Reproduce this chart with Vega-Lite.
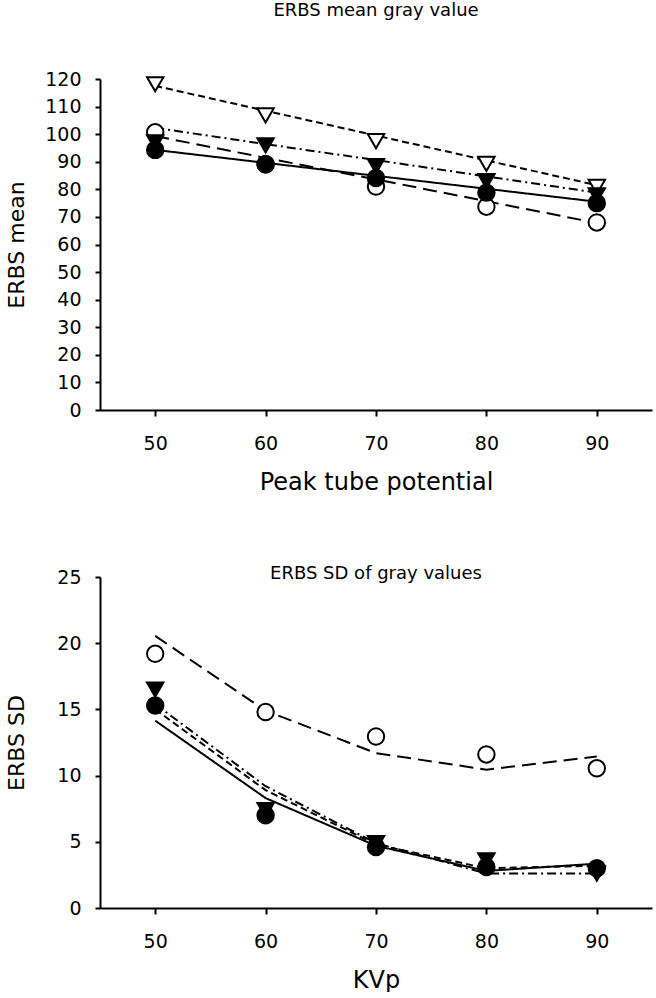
{
  "$schema": "https://vega.github.io/schema/vega-lite/v6.json",
  "padding": {"left": 5, "top": 2, "right": 4, "bottom": 0},
  "autosize": {"type": "pad"},
  "background": "white",
  "config": {
    "view": {"stroke": null},
    "font": "DejaVu Sans",
    "axis": {
      "domainColor": "black", "tickColor": "black", "labelColor": "black", "titleColor": "black",
      "grid": false, "domainWidth": 2, "tickWidth": 2, "tickSize": 6, "labelOverlap": false,
      "labelFontSize": 19, "titleFontSize": 22, "titleFontWeight": "normal",
      "labelFont": "DejaVu Sans", "titleFont": "DejaVu Sans"
    },
    "axisX": {"titleFontSize": 24, "labelPadding": 18},
    "title": {"fontSize": 18, "fontWeight": "normal", "color": "black", "font": "DejaVu Sans", "anchor": "middle"}
  },
  "datasets": {
    "meanFit": [
      {"kvp": 50, "series": "A", "value": 94.3}, {"kvp": 60, "series": "A", "value": 89.6}, {"kvp": 70, "series": "A", "value": 84.9}, {"kvp": 80, "series": "A", "value": 80.2}, {"kvp": 90, "series": "A", "value": 75.5},
      {"kvp": 50, "series": "B", "value": 99.3}, {"kvp": 60, "series": "B", "value": 91.4}, {"kvp": 70, "series": "B", "value": 83.6}, {"kvp": 80, "series": "B", "value": 75.7}, {"kvp": 90, "series": "B", "value": 67.8},
      {"kvp": 50, "series": "C", "value": 102.3}, {"kvp": 60, "series": "C", "value": 96.4}, {"kvp": 70, "series": "C", "value": 90.6}, {"kvp": 80, "series": "C", "value": 84.7}, {"kvp": 90, "series": "C", "value": 78.8},
      {"kvp": 50, "series": "D", "value": 117.5}, {"kvp": 60, "series": "D", "value": 108.5}, {"kvp": 70, "series": "D", "value": 99.5}, {"kvp": 80, "series": "D", "value": 90.5}, {"kvp": 90, "series": "D", "value": 81.5}
    ],
    "meanPts": [
      {"kvp": 50, "series": "B", "value": 100.7}, {"kvp": 60, "series": "B", "value": 89.0}, {"kvp": 70, "series": "B", "value": 81.0}, {"kvp": 80, "series": "B", "value": 73.7}, {"kvp": 90, "series": "B", "value": 68.0},
      {"kvp": 50, "series": "D", "value": 118.1}, {"kvp": 60, "series": "D", "value": 106.8}, {"kvp": 70, "series": "D", "value": 97.5}, {"kvp": 80, "series": "D", "value": 89.2}, {"kvp": 90, "series": "D", "value": 80.9},
      {"kvp": 50, "series": "C", "value": 97.0}, {"kvp": 60, "series": "C", "value": 95.9}, {"kvp": 70, "series": "C", "value": 88.4}, {"kvp": 80, "series": "C", "value": 83.0}, {"kvp": 90, "series": "C", "value": 77.8},
      {"kvp": 50, "series": "A", "value": 94.3}, {"kvp": 60, "series": "A", "value": 89.2}, {"kvp": 70, "series": "A", "value": 84.1}, {"kvp": 80, "series": "A", "value": 78.8}, {"kvp": 90, "series": "A", "value": 75.0}
    ],
    "sdFit": [
      {"kvp": 50, "series": "A", "value": 14.15}, {"kvp": 60, "series": "A", "value": 8.3}, {"kvp": 70, "series": "A", "value": 4.7}, {"kvp": 80, "series": "A", "value": 2.8}, {"kvp": 90, "series": "A", "value": 3.35},
      {"kvp": 50, "series": "B", "value": 20.55}, {"kvp": 60, "series": "B", "value": 14.9}, {"kvp": 70, "series": "B", "value": 11.7}, {"kvp": 80, "series": "B", "value": 10.45}, {"kvp": 90, "series": "B", "value": 11.45},
      {"kvp": 50, "series": "C", "value": 15.4}, {"kvp": 60, "series": "C", "value": 9.2}, {"kvp": 70, "series": "C", "value": 4.9}, {"kvp": 80, "series": "C", "value": 2.6}, {"kvp": 90, "series": "C", "value": 2.6},
      {"kvp": 50, "series": "D", "value": 15.0}, {"kvp": 60, "series": "D", "value": 8.9}, {"kvp": 70, "series": "D", "value": 4.8}, {"kvp": 80, "series": "D", "value": 3.0}, {"kvp": 90, "series": "D", "value": 3.2}
    ],
    "sdPts": [
      {"kvp": 50, "series": "B", "value": 19.2}, {"kvp": 60, "series": "B", "value": 14.8}, {"kvp": 70, "series": "B", "value": 12.95}, {"kvp": 80, "series": "B", "value": 11.6}, {"kvp": 90, "series": "B", "value": 10.55},
      {"kvp": 50, "series": "C", "value": 16.5}, {"kvp": 60, "series": "C", "value": 7.4}, {"kvp": 70, "series": "C", "value": 4.9}, {"kvp": 80, "series": "C", "value": 3.6}, {"kvp": 90, "series": "C", "value": 2.6},
      {"kvp": 50, "series": "A", "value": 15.3}, {"kvp": 60, "series": "A", "value": 7.0}, {"kvp": 70, "series": "A", "value": 4.6}, {"kvp": 80, "series": "A", "value": 3.1}, {"kvp": 90, "series": "A", "value": 3.0}
    ]
  },
  "vconcat": [
    {
      "width": 552, "height": 331,
      "title": {"text": "ERBS mean gray value", "offset": 50},
      "encoding": {
        "x": {"field": "kvp", "type": "quantitative", "scale": {"domain": [45, 95], "nice": false, "zero": false},
              "axis": {"values": [50, 60, 70, 80, 90], "title": "Peak tube potential", "titlePadding": 17}},
        "y": {"field": "value", "type": "quantitative", "scale": {"domain": [0, 120], "nice": false},
              "axis": {"values": [0, 10, 20, 30, 40, 50, 60, 70, 80, 90, 100, 110, 120], "title": "ERBS mean", "tickSize": 5, "labelPadding": 14, "titlePadding": 16}}
      },
      "layer": [
        {
          "data": {"name": "meanFit"},
          "mark": {"type": "line", "color": "black", "strokeWidth": 2},
          "encoding": {
            "detail": {"field": "series"},
            "strokeDash": {"field": "series", "type": "nominal", "legend": null,
                           "scale": {"domain": ["A", "B", "C", "D"], "range": [[1, 0], [14, 7], [9, 4, 2, 4], [7, 4]]}}
          }
        },
        {
          "data": {"name": "meanPts"},
          "mark": {"type": "point", "filled": true, "stroke": "black", "strokeWidth": 2, "opacity": 1},
          "encoding": {
            "shape": {"field": "series", "type": "nominal", "legend": null,
                      "scale": {"domain": ["A", "B", "C", "D"], "range": ["circle", "circle", "triangle-down", "triangle-down"]}},
            "fill": {"field": "series", "type": "nominal", "legend": null,
                     "scale": {"domain": ["A", "B", "C", "D"], "range": ["black", "white", "black", "white"]}},
            "size": {"field": "series", "type": "nominal", "legend": null,
                     "scale": {"domain": ["A", "B", "C", "D"], "range": [270, 270, 390, 390]}}
          }
        }
      ]
    },
    {
      "width": 552, "height": 331,
      "title": {"text": "ERBS SD of gray values", "offset": -15},
      "encoding": {
        "x": {"field": "kvp", "type": "quantitative", "scale": {"domain": [45, 95], "nice": false, "zero": false},
              "axis": {"values": [50, 60, 70, 80, 90], "title": "KVp", "titlePadding": 17}},
        "y": {"field": "value", "type": "quantitative", "scale": {"domain": [0, 25], "nice": false},
              "axis": {"values": [0, 5, 10, 15, 20, 25], "title": "ERBS SD", "tickSize": 5, "labelPadding": 14, "titlePadding": 28}}
      },
      "layer": [
        {
          "data": {"name": "sdFit"},
          "mark": {"type": "line", "color": "black", "strokeWidth": 2},
          "encoding": {
            "detail": {"field": "series"},
            "strokeDash": {"field": "series", "type": "nominal", "legend": null,
                           "scale": {"domain": ["A", "B", "C", "D"], "range": [[1, 0], [14, 7], [9, 4, 2, 4], [7, 4]]}}
          }
        },
        {
          "data": {"name": "sdPts"},
          "mark": {"type": "point", "filled": true, "stroke": "black", "strokeWidth": 2, "opacity": 1},
          "encoding": {
            "shape": {"field": "series", "type": "nominal", "legend": null,
                      "scale": {"domain": ["A", "B", "C", "D"], "range": ["circle", "circle", "triangle-down", "triangle-down"]}},
            "fill": {"field": "series", "type": "nominal", "legend": null,
                     "scale": {"domain": ["A", "B", "C", "D"], "range": ["black", "white", "black", "white"]}},
            "size": {"field": "series", "type": "nominal", "legend": null,
                     "scale": {"domain": ["A", "B", "C", "D"], "range": [270, 270, 390, 390]}}
          }
        }
      ]
    }
  ],
  "spacing": 71
}
